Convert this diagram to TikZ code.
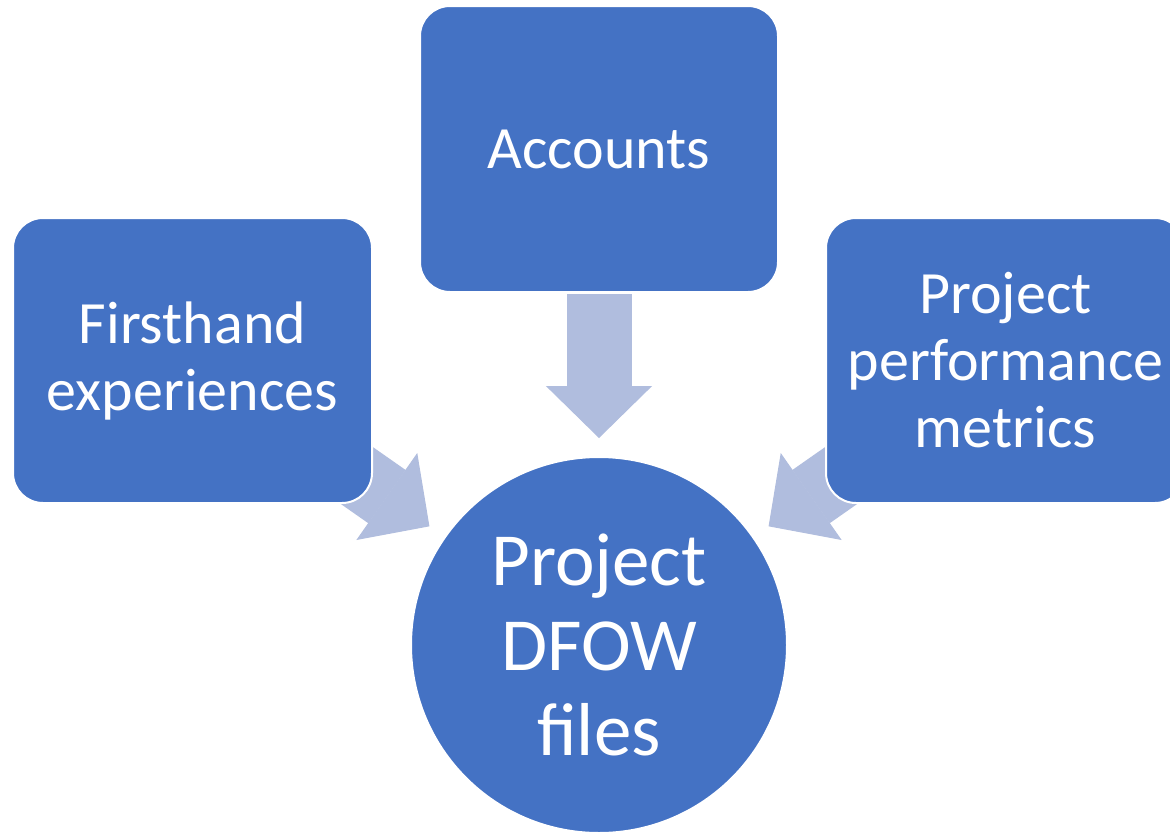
\documentclass[tikz,border=0pt]{standalone}
\usepackage{fontspec}
\setmainfont{Carlito}
\usepackage{tikz}
\usetikzlibrary{arrows.meta}
\definecolor{boxblue}{RGB}{68,114,196}
\definecolor{arrblue}{RGB}{176,189,222}
\pgfdeclarelayer{paper}
\pgfdeclarelayer{flow}
\pgfsetlayers{paper,flow,main}

\begin{document}
\begin{tikzpicture}[x=1pt,y=-1pt]
        \tikzstyle{every node} = [rectangle, rounded corners=30pt, fill=boxblue, draw=white, line width=2pt, text=white, align=center, font=\fontsize{60}{67}\selectfont, minimum width=359pt, minimum height=285pt, inner sep=0pt]
        \tikzstyle{flow} = [line width=65pt, arrblue, -{Triangle[width=106pt,length=52pt,line width=1pt]}, shorten <=145pt, shorten >=207pt]
        \useasboundingbox (0,0) rectangle (1170,833);
        \node (0) at (599,645) [circle, minimum size=376pt, font=\fontsize{75}{85}\selectfont] {Project\\DFOW\\files};
        \node (1) at (192.5,360.5) {Firsthand\\experiences};
        \node (2) at (599,149) [minimum width=358pt, minimum height=286pt] {Accounts};
        \node (3) at (1005.5,360.5) {Project\\performance\\metrics};

        \begin{pgfonlayer}{paper}
                \fill[white] (0,0) rectangle (1170,833);
        \end{pgfonlayer}
        \begin{pgfonlayer}{flow}
                \foreach \n in {1,2,3}
                        \draw[flow] (\n.center) -- (0.center);
        \end{pgfonlayer}
\end{tikzpicture}
\end{document}
